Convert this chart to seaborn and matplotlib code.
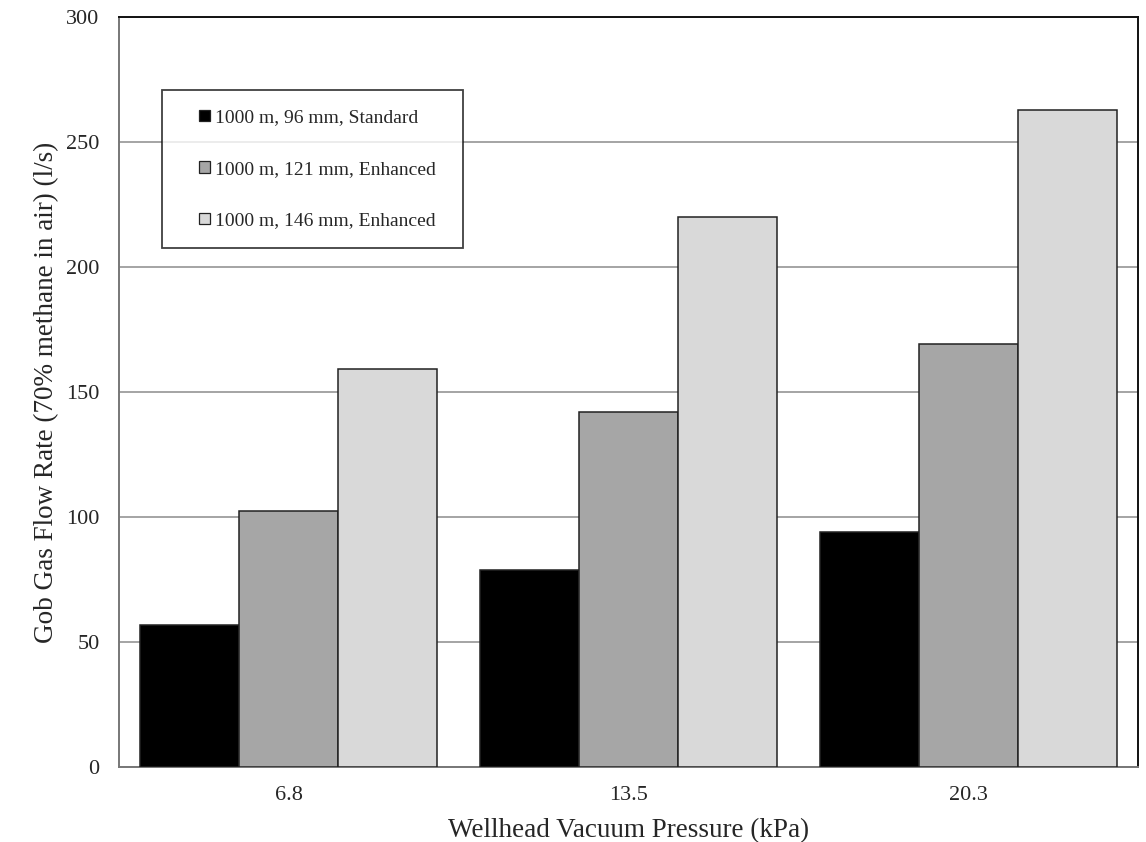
import matplotlib
matplotlib.use("Agg")
import matplotlib.pyplot as plt
from matplotlib.patches import Rectangle
from matplotlib.legend_handler import HandlerPatch
import seaborn as sns
import pandas as pd

pressures = ["6.8", "13.5", "20.3"]
series = ["1000 m, 96 mm, Standard", "1000 m, 121 mm, Enhanced", "1000 m, 146 mm, Enhanced"]
standard_96 = [56.8, 78.8, 94.0]
enhanced_121 = [102.4, 142.0, 169.2]
enhanced_146 = [159.2, 220.0, 262.8]
colors = ["#000000", "#a6a6a6", "#d9d9d9"]

rows = []
for name, vals in zip(series, [standard_96, enhanced_121, enhanced_146]):
    for p, v in zip(pressures, vals):
        rows.append({"pressure": p, "series": name, "flow": v})
df = pd.DataFrame(rows)

sns.set_theme(style="white")
plt.rcParams["font.family"] = ["Liberation Serif", "DejaVu Serif"]

fig = plt.figure(figsize=(11.46, 8.42), dpi=100)
ax = fig.add_axes([119 / 1146, 1 - 767 / 842, (1138 - 119) / 1146, (767 - 17) / 842])

sns.barplot(data=df, x="pressure", y="flow", hue="series", order=pressures,
            hue_order=series, palette=colors, width=0.875, gap=0,
            edgecolor="#222222", linewidth=1.1, saturation=1, ax=ax, zorder=3)

ax.set_ylim(0, 300)
ax.set_yticks(range(0, 301, 50))
ax.yaxis.grid(True, color="#8c8c8c", linewidth=1.1, zorder=0)
ax.set_axisbelow(True)
ax.xaxis.grid(False)

for side in ["top", "right"]:
    ax.spines[side].set_color("#111111")
    ax.spines[side].set_linewidth(1.4)
for side in ["left", "bottom"]:
    ax.spines[side].set_color("#777777")
    ax.spines[side].set_linewidth(1.4)

ax.tick_params(axis="y", labelsize=16, length=0, pad=14)
ax.tick_params(axis="x", labelsize=16, length=0, pad=14)
ax.set_xlabel("Wellhead Vacuum Pressure (kPa)", fontsize=19.5, labelpad=9)
ax.set_ylabel("Gob Gas Flow Rate (70% methane in air) (l/s)", fontsize=19.5, labelpad=5)


def square_at_right(legend, orig_handle, xdescent, ydescent, width, height, fontsize):
    s = 0.58 * fontsize
    return Rectangle((width - s - xdescent, (height - s) / 2 - ydescent), s, s)


handles, labels = ax.get_legend_handles_labels()
leg = ax.legend(handles, labels, loc="upper left",
                bbox_to_anchor=(43 / 1019, 0.3, 301 / 1019, 1 - 90 / 750 + 17 / 750 - 0.3),
                mode="expand", fontsize=14, frameon=True, fancybox=False,
                edgecolor="#111111", handlelength=1.54, handleheight=0.7,
                handletextpad=0.25, labelspacing=1.75, borderpad=0.95,
                borderaxespad=0,
                handler_map={Rectangle: HandlerPatch(patch_func=square_at_right)})
leg.get_frame().set_linewidth(1.3)
for h in leg.legend_handles:
    h.set_edgecolor("#222222")
    h.set_linewidth(0.9)

fig.savefig("out.png", dpi=100)
